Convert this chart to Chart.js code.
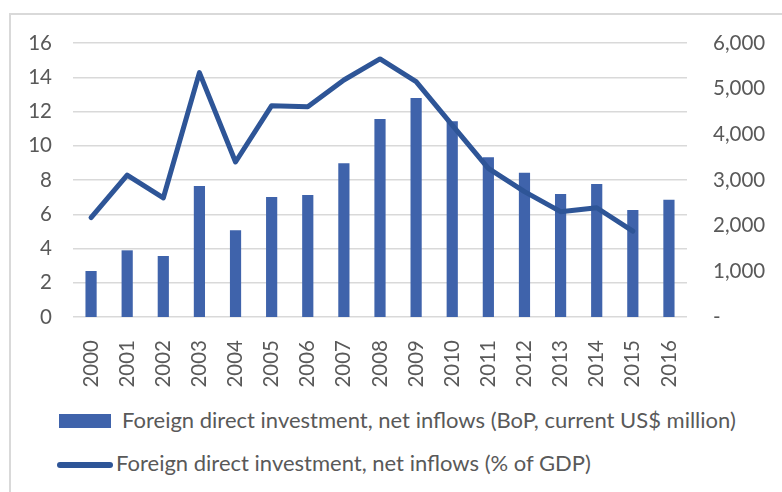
<!DOCTYPE html>
<html>
<head>
<meta charset="utf-8">
<script src="https://cdn.jsdelivr.net/npm/chart.js@4"></script>
<style>
  body { margin: 0; background: #fff; font-family: Lato, sans-serif; }
  #wrap { position: relative; width: 782px; height: 492px; overflow: hidden; }
  #frame { position: absolute; left: 9px; top: 13px; width: 800px; height: 500px; border: 2px solid #d9d9d9; box-sizing: border-box; }
  #c { position: absolute; left: 0; top: 0; }
  .lg { position: absolute; color: #595959; font-size: 22px; white-space: nowrap; line-height: 26px; }
  .box { position: absolute; left: 59px; top: 414px; width: 52px; height: 14px; background: #3f63ab; }
  .ln { position: absolute; left: 57px; top: 462px; width: 56px; height: 6px; border-radius: 3px; background: #2e5597; }
</style>
</head>
<body>
<div id="wrap">
  <div id="frame"></div>
  <canvas id="c" width="782" height="400"></canvas>
  <div class="box"></div>
  <div class="lg" style="left:122px; top:407px;">Foreign direct investment, net inflows (BoP, current US$ million)</div>
  <div class="ln"></div>
  <div class="lg" style="left:116px; top:450px;">Foreign direct investment, net inflows (% of GDP)</div>
</div>
<script>
const years = ['2000','2001','2002','2003','2004','2005','2006','2007','2008','2009','2010','2011','2012','2013','2014','2015','2016'];
const fdiMillion = [1007, 1460, 1336, 2869, 1898, 2628, 2672, 3365, 4336, 4796, 4285, 3496, 3160, 2693, 2912, 2343, 2569];
const fdiPctGdp = [5.80, 8.29, 6.95, 14.27, 9.05, 12.34, 12.28, 13.84, 15.07, 13.74, 11.21, 8.68, 7.32, 6.15, 6.38, 5.02, null];
const leftTicks = { min: 0, max: 16, step: 2 };
const rightTicks = { min: 0, max: 6000, step: 1000 };

Chart.defaults.font.family = 'Lato, sans-serif';
Chart.defaults.color = '#595959';

const ctx = document.getElementById('c');
const myChart = new Chart(ctx, {
  type: 'bar',
  data: {
    labels: years,
    datasets: [
      { type: 'line',
        label: 'Foreign direct investment, net inflows (% of GDP)',
        data: fdiPctGdp,
        yAxisID: 'yL',
        borderColor: '#2e5597',
        borderWidth: 5,
        pointRadius: 0,
        tension: 0,
        borderCapStyle: 'round',
        borderJoinStyle: 'round',
        order: 0
      },
      { label: 'Foreign direct investment, net inflows (BoP, current US$ million)',
        data: fdiMillion,
        yAxisID: 'yR',
        backgroundColor: '#3f63ab',
        categoryPercentage: 1,
        barPercentage: 0.31,
        order: 1
      }
    ]
  },
  options: {
    responsive: false,
    animation: false,
    layout: { padding: { top: 43, bottom: 0, left: 0, right: 0 } },
    plugins: { legend: { display: false }, tooltip: { enabled: false } },
    scales: {
      x: {
        grid: { display: false },
        border: { display: false },
        ticks: { autoSkip: false, minRotation: 90, maxRotation: 90, padding: 15, font: { size: 20.5 } },
        afterFit: (s) => { s.height = 83; }
      },
      yL: {
        position: 'left',
        min: leftTicks.min, max: leftTicks.max,
        ticks: { stepSize: leftTicks.step, padding: 21, font: { size: 20.5 } },
        grid: { color: '#d9d9d9', lineWidth: 1.5, drawTicks: false },
        border: { display: false },
        afterFit: (s) => { s.width = 73; }
      },
      yR: {
        position: 'right',
        min: rightTicks.min, max: rightTicks.max,
        ticks: {
          stepSize: rightTicks.step, padding: 26, font: { size: 20.5 },
          callback: (v) => v === 0 ? '-' : v.toLocaleString('en-US')
        },
        grid: { display: false, drawTicks: false },
        border: { display: false },
        afterFit: (s) => { s.width = 95; }
      }
    }
  }
});
</script>
</body>
</html>
